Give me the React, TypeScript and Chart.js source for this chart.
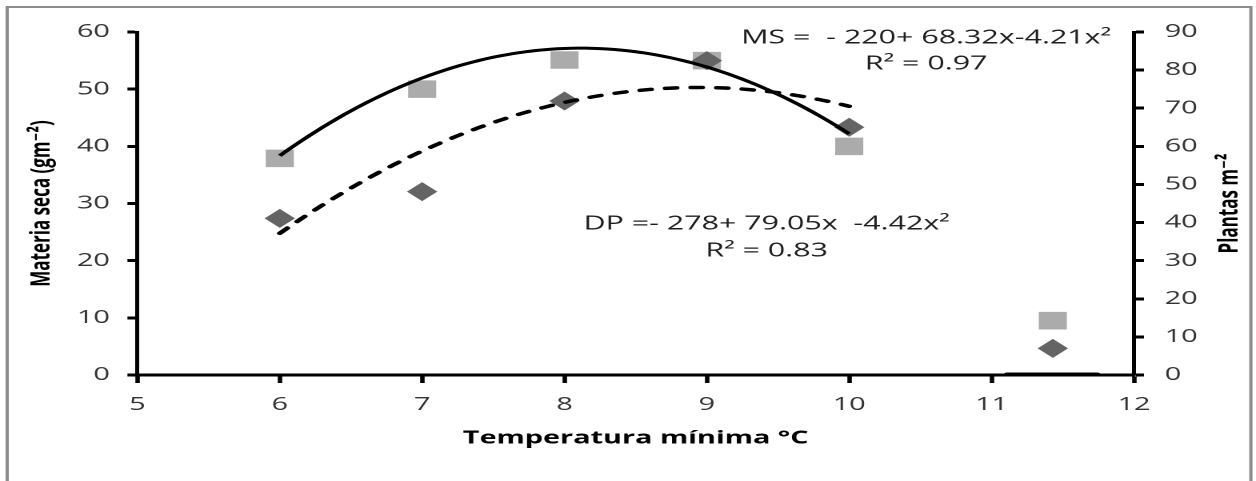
import { useEffect, useRef } from 'react';
import { Chart, registerables } from 'chart.js';

Chart.register(...registerables);

// Observed values: dry matter (g m-2, left axis) and plants m-2 (right axis)
const temperatures = [6, 7, 8, 9, 10, 11.43];
const materiaSeca = [37.9, 50, 55.1, 55, 40, 9.5];
const plantas = [41.1, 48.1, 71.9, 82.5, 65, 7];

// Quadratic fits: a + b·x + c·x²
const msCoef = [-220, 68.32, -4.21];
const dpCoef = [-278, 79.05, -4.42];
const fitRange = [6, 10];

// Short flat segment lying on the x axis
const baseSegmentX = [11.11, 11.74];
const baseSegmentY = [0, 0];

// Axis ranges
const xRange = [5, 12];
const leftRange = [0, 60];
const rightRange = [0, 90];

// Equation labels and their anchors (x in °C, y on the left axis)
const msEquation = ['MS =  - 220+ 68.32x-4.21x²', 'R² = 0.97'];
const msLabelX = 10.54;
const msLabelY = [58.9, 54.4];
const dpEquation = ['DP =- 278+ 79.05x  -4.42x²', 'R² = 0.83'];
const dpLabelX = 9.42;
const dpLabelY = [26.4, 21.7];

const xTitle = 'Temperatura mínima °C';
const leftTitle = 'Materia seca (gm⁻²)';
const rightTitle = 'Plantas m⁻²';

const STRETCH = 1.6;
const BASE_W = 785;
const BASE_H = 481;
const FONT = "'Open Sans', 'DejaVu Sans', sans-serif";

function fitCurve(c: number[]) {
  const pts: { x: number; y: number }[] = [];
  const steps = 80;
  for (let i = 0; i <= steps; i++) {
    const x = fitRange[0] + ((fitRange[1] - fitRange[0]) * i) / steps;
    pts.push({ x, y: c[0] + c[1] * x + c[2] * x * x });
  }
  return pts;
}

const framePlugin = {
  id: 'frame',
  beforeDraw(chart: any) {
    const { ctx, width, height } = chart;
    ctx.save();
    ctx.fillStyle = '#ffffff';
    ctx.fillRect(0, 0, width, height);
    ctx.strokeStyle = '#8c8c8c';
    ctx.lineWidth = 2;
    ctx.strokeRect(4.5, 7, 781.8 - 4.5, height + 20);
    ctx.restore();
  },
};

const textPlugin = {
  id: 'annotations',
  afterDraw(chart: any) {
    const { ctx, chartArea, scales } = chart;
    const xs = scales.x;
    const ys = scales.y;
    ctx.save();
    ctx.fillStyle = '#1e1e1e';
    ctx.font = `19px ${FONT}`;
    ctx.textAlign = 'center';
    ctx.textBaseline = 'middle';
    msEquation.forEach((t, i) => {
      ctx.fillText(t, xs.getPixelForValue(msLabelX), ys.getPixelForValue(msLabelY[i]));
    });
    dpEquation.forEach((t, i) => {
      ctx.fillText(t, xs.getPixelForValue(dpLabelX), ys.getPixelForValue(dpLabelY[i]));
    });
    // right axis title, reading bottom to top
    const r = scales.y1;
    ctx.translate(r.right - 16.25, (chartArea.top + chartArea.bottom) / 2);
    ctx.rotate(-Math.PI / 2);
    ctx.fillStyle = '#000';
    ctx.font = `bold 17px ${FONT}`;
    ctx.fillText(rightTitle, 0, 0);
    ctx.restore();
  },
};

export default function App() {
  const canvasRef = useRef<HTMLCanvasElement | null>(null);

  useEffect(() => {
    if (!canvasRef.current) return;
    const tickFont = { family: FONT, size: 18 };
    const tickColor = '#333';
    const chart = new Chart(canvasRef.current, {
      type: 'scatter',
      data: {
        datasets: [
          {
            label: 'MS ajuste',
            data: fitCurve(msCoef),
            yAxisID: 'y',
            showLine: true,
            borderColor: '#000',
            borderWidth: 3,
            pointRadius: 0,
            order: 1,
          },
          {
            label: 'DP ajuste',
            data: fitCurve(dpCoef),
            yAxisID: 'y1',
            showLine: true,
            borderColor: '#000',
            borderWidth: 3.5,
            borderDash: [7, 9],
            borderCapStyle: 'round',
            pointRadius: 0,
            order: 1,
          },
          {
            label: 'base',
            data: baseSegmentX.map((x, i) => ({ x, y: baseSegmentY[i] })),
            yAxisID: 'y',
            showLine: true,
            borderColor: '#000',
            borderWidth: 5,
            borderCapStyle: 'round',
            pointRadius: 0,
            order: 1,
          },
          {
            label: 'DP',
            data: temperatures.map((x, i) => ({ x, y: plantas[i] })),
            yAxisID: 'y1',
            pointStyle: 'rectRot',
            pointRadius: 9.5,
            pointBorderWidth: 0,
            backgroundColor: '#646464',
            borderColor: '#646464',
            order: 2,
          },
          {
            label: 'MS',
            data: temperatures.map((x, i) => ({ x, y: materiaSeca[i] })),
            yAxisID: 'y',
            pointStyle: 'rect',
            pointRadius: 12.4,
            pointBorderWidth: 0,
            backgroundColor: '#ababab',
            borderColor: '#ababab',
            order: 3,
          },
        ],
      },
      options: {
        animation: false,
        responsive: true,
        maintainAspectRatio: false,
        devicePixelRatio: 2,
        layout: { padding: { top: 32, left: 0, right: 0, bottom: 0 } },
        plugins: {
          legend: { display: false },
          tooltip: { enabled: false },
        },
        events: [],
        scales: {
          x: {
            type: 'linear',
            position: 'bottom',
            min: xRange[0],
            max: xRange[1],
            afterFit: (s: any) => {
              s.height = 106;
            },
            ticks: { stepSize: 1, font: tickFont, color: tickColor, padding: 11, maxRotation: 0 },
            grid: {
              drawOnChartArea: false,
              drawTicks: true,
              tickLength: 8,
              tickWidth: 2.8,
              tickColor: '#000',
            },
            border: { display: true, color: '#000', width: 3 },
            title: {
              display: true,
              text: xTitle,
              color: '#000',
              font: { family: FONT, size: 18, weight: 'bold' },
              padding: { top: 0, bottom: 32 },
            },
          },
          y: {
            type: 'linear',
            position: 'left',
            min: leftRange[0],
            max: leftRange[1],
            afterFit: (s: any) => {
              s.width = 85.9;
            },
            ticks: { stepSize: 10, font: tickFont, color: tickColor, padding: 11 },
            grid: {
              drawOnChartArea: false,
              drawTicks: true,
              tickLength: 6.25,
              tickWidth: 3,
              tickColor: '#000',
            },
            border: { display: true, color: '#000', width: 2.5 },
            title: {
              display: true,
              text: leftTitle,
              color: '#000',
              font: { family: FONT, size: 17, weight: 'bold' },
              padding: { top: 15.8, bottom: 0 },
            },
          },
          y1: {
            type: 'linear',
            position: 'right',
            min: rightRange[0],
            max: rightRange[1],
            afterFit: (s: any) => {
              s.width = 76.25;
            },
            ticks: { stepSize: 10, font: tickFont, color: tickColor, padding: 13 },
            grid: {
              drawOnChartArea: false,
              drawTicks: true,
              tickLength: 6.25,
              tickWidth: 3,
              tickColor: '#000',
            },
            border: { display: true, color: '#000', width: 2.5 },
          },
        },
      } as any,
      plugins: [framePlugin, textPlugin],
    });
    return () => chart.destroy();
  }, []);

  return (
    <div
      style={{
        position: 'absolute',
        left: 0,
        top: 0,
        width: BASE_W,
        height: BASE_H,
        transform: `scaleX(${STRETCH})`,
        transformOrigin: '0 0',
      }}
    >
      <canvas ref={canvasRef} />
    </div>
  );
}
